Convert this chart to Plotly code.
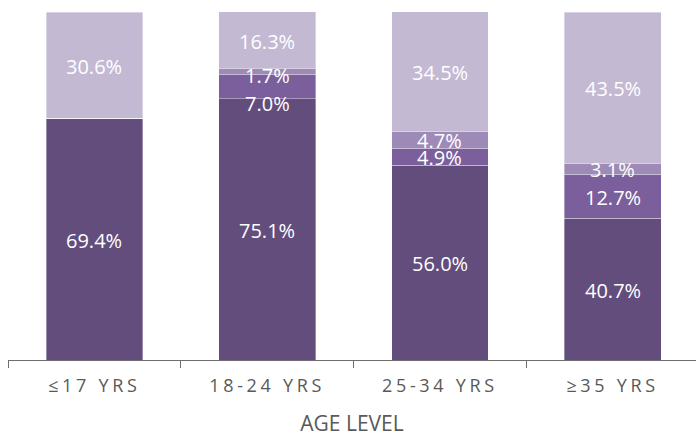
import plotly.graph_objects as go

# Age groups on the x axis
categories = ["≤17 YRS", "18-24 YRS", "25-34 YRS", "≥35 YRS"]

# Share of each stacked segment per age group (percent), bottom to top
seg_base = [69.4, 75.1, 56.0, 40.7]
seg_second = [0.0, 7.0, 4.9, 12.7]
seg_third = [0.0, 1.7, 4.7, 3.1]
seg_top = [30.6, 16.3, 34.5, 43.5]

series = [
    ("Group A", seg_base, "#624D7D"),
    ("Group B", seg_second, "#7B5F9C"),
    ("Group C", seg_third, "#9E8AB7"),
    ("Group D", seg_top, "#C4B9D3"),
]

# Vertical nudges (px) for labels that would collide in thin segments
label_nudge = {("Group B", 1): -16, ("Group C", 1): -3}

fig = go.Figure()
annotations = []
cum = [0.0] * len(categories)
for name, vals, color in series:
    fig.add_trace(go.Bar(
        x=categories,
        y=vals,
        name=name,
        marker=dict(color=color, line=dict(color="rgba(255,255,255,0.45)", width=0.8)),
        width=0.56,
        showlegend=False,
        hoverinfo="skip",
    ))
    for i, v in enumerate(vals):
        if v > 0:
            annotations.append(dict(
                x=categories[i],
                y=cum[i] + v / 2,
                xref="x", yref="y",
                text=f"{v:.1f}%",
                showarrow=False,
                yshift=label_nudge.get((name, i), 0) - 1,
                font=dict(family="Open Sans", size=20, color="white"),
            ))
        cum[i] += v

fig.update_layout(
    barmode="stack",
    width=696,
    height=437,
    margin=dict(l=8, r=0, t=12, b=77),
    paper_bgcolor="white",
    plot_bgcolor="white",
    bargap=0.44,
    annotations=annotations,
    xaxis=dict(
        type="category",
        range=[-0.5, -0.5 + 688 / 172.75],
        showline=True,
        linecolor="#6E6E6E",
        linewidth=1,
        ticks="outside",
        tickson="boundaries",
        ticklen=7,
        tickcolor="#6E6E6E",
        tickwidth=1,
        ticklabelstandoff=9,
        tickfont=dict(family="Open Sans", size=18, color="#595959"),
        showgrid=False,
        zeroline=False,
        title=dict(text="AGE LEVEL", font=dict(family="Open Sans", size=21, color="#595959"), standoff=20),
    ),
    yaxis=dict(
        range=[0, 100],
        visible=False,
        showgrid=False,
        zeroline=False,
    ),
)

letter_spacing_js = """
var gd = document.getElementById('{plot_id}');
function spaceTicks() {
  gd.querySelectorAll('.xtick text').forEach(function (t) { t.style.letterSpacing = '3.7px'; });
}
spaceTicks();
gd.on('plotly_afterplot', spaceTicks);
"""

fig.write_html("out.html", post_script=letter_spacing_js)
